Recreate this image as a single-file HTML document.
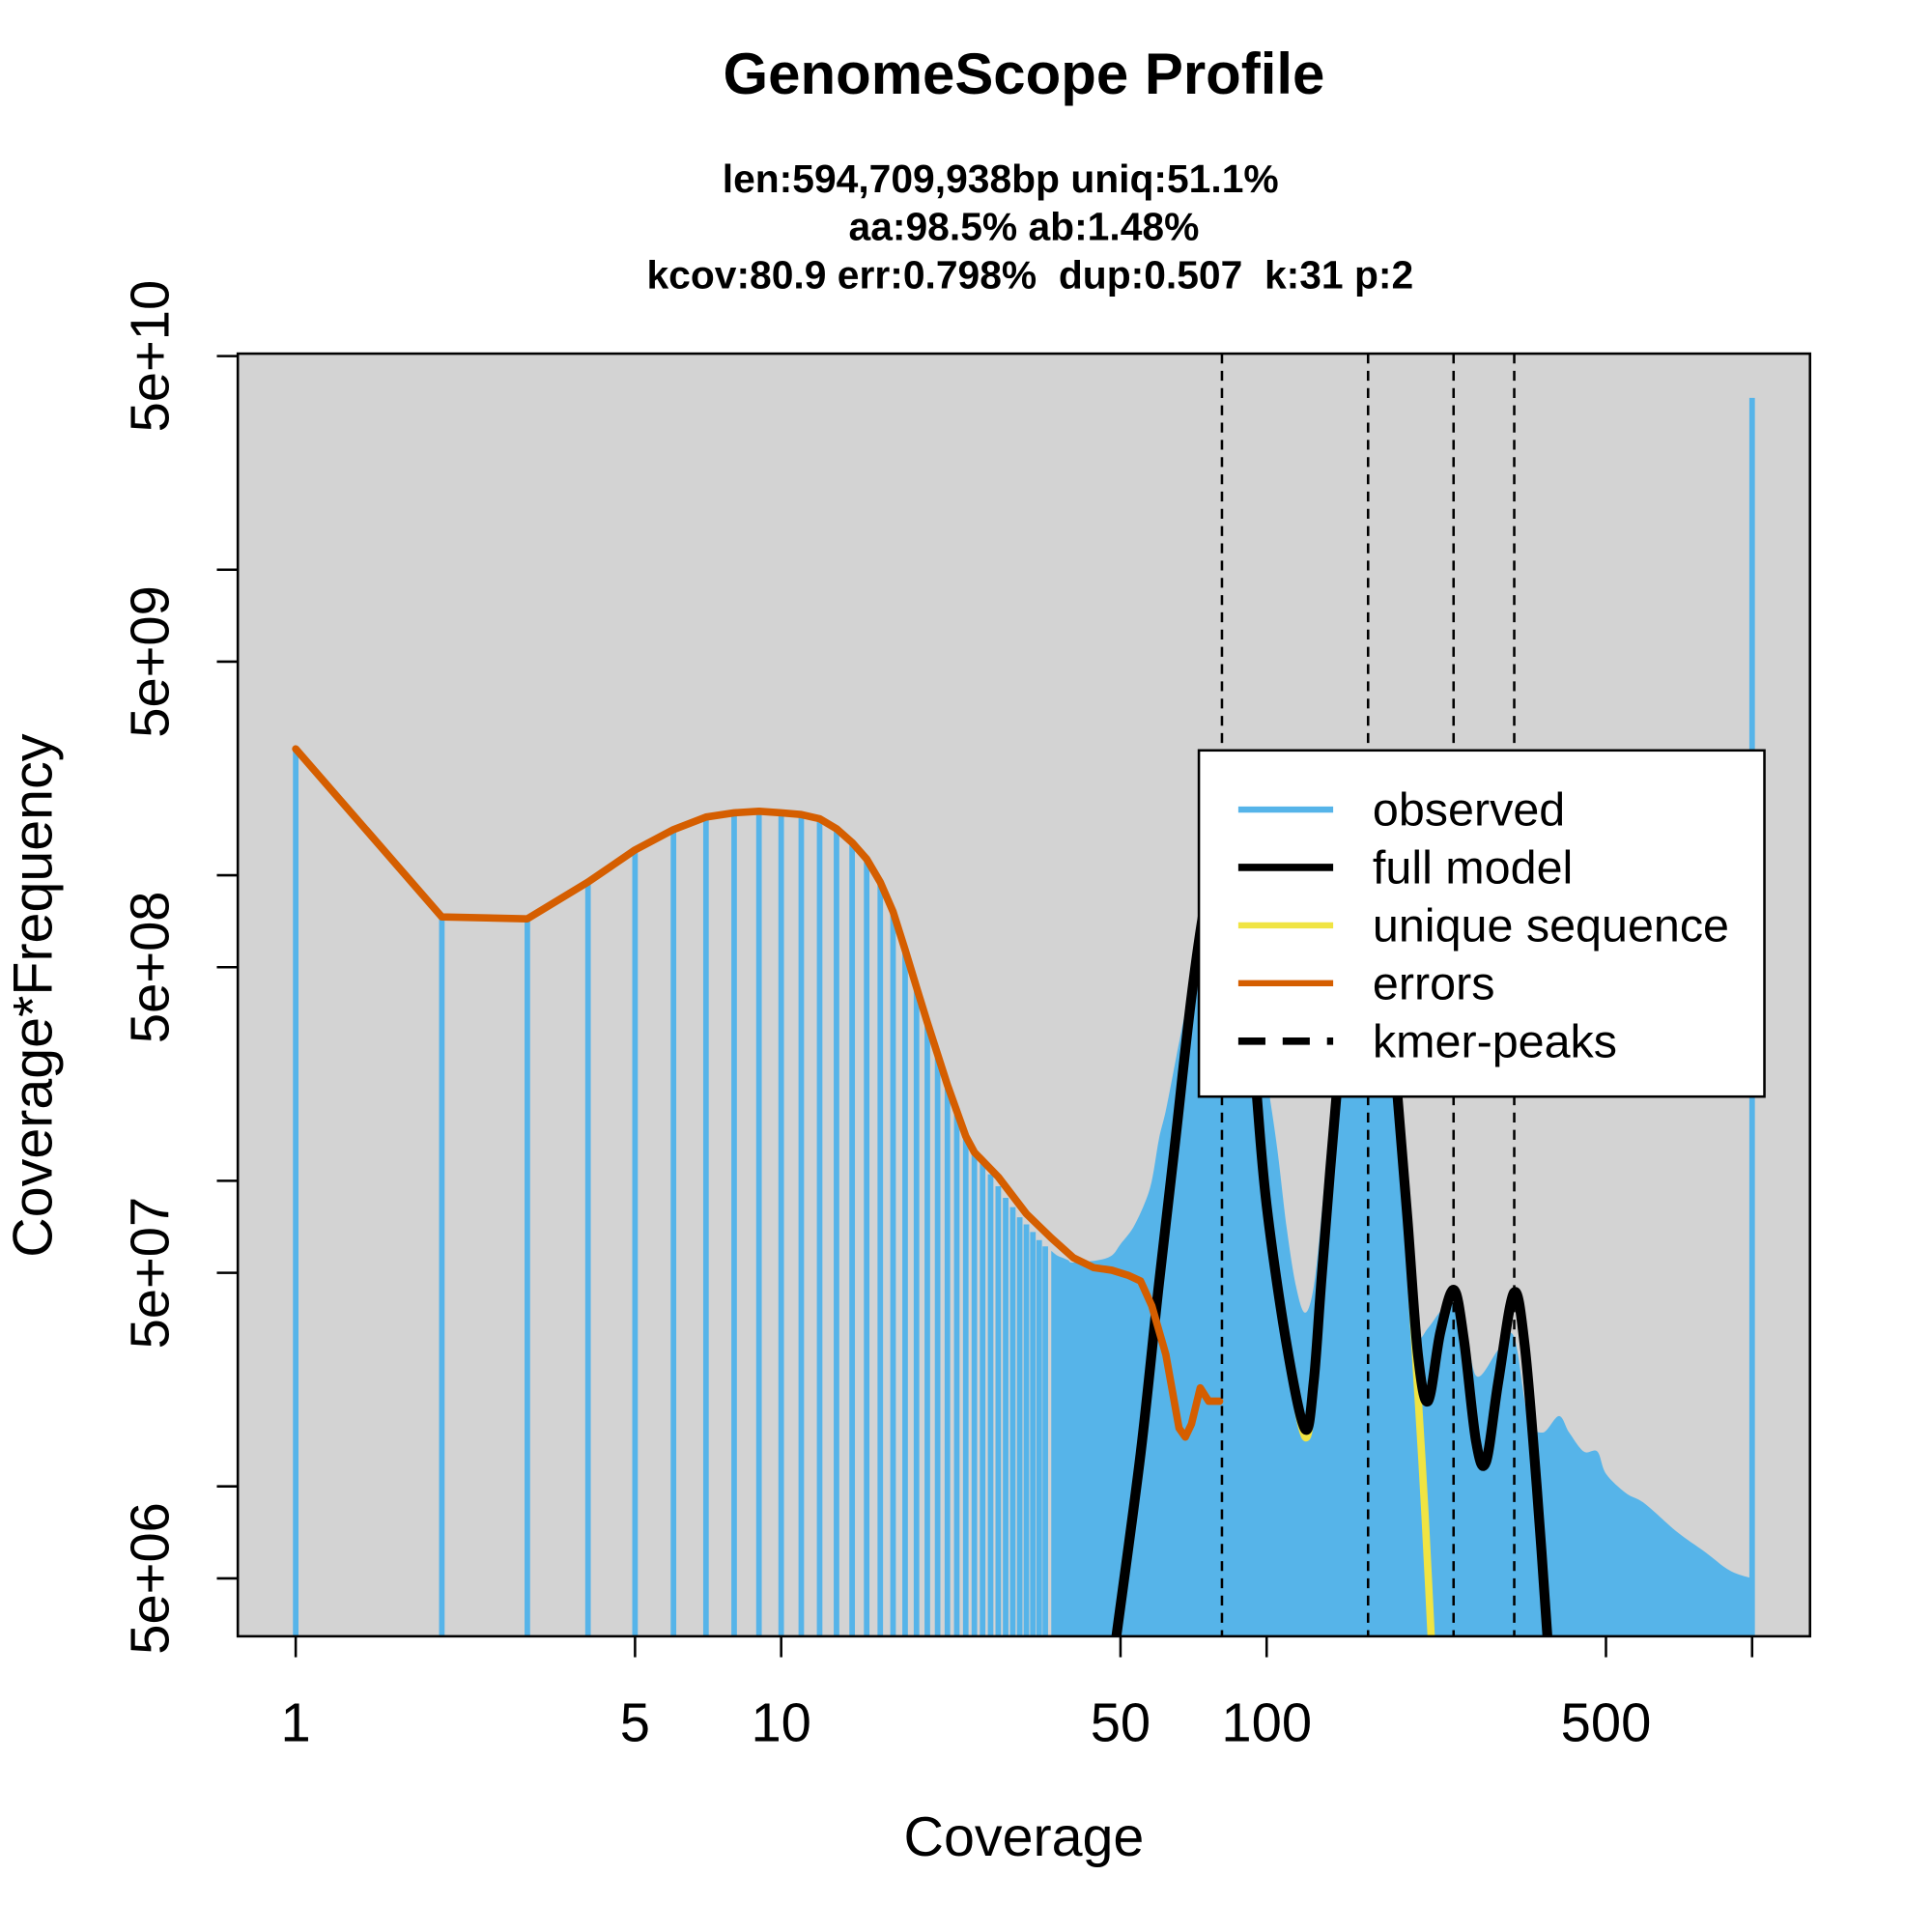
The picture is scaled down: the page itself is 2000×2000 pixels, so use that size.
<!DOCTYPE html>
<html><head><meta charset="utf-8"><style>
html,body{margin:0;padding:0;background:#fff}
svg{display:block}
text{font-family:"Liberation Sans",Arial,sans-serif;fill:#000;white-space:pre}
</style></head><body>
<svg id="chart" width="2000" height="2000" viewBox="0 0 1568 1568" xmlns="http://www.w3.org/2000/svg">
<rect x="0" y="0" width="1568" height="1568" fill="#fff"/>
<text x="831" y="76" font-size="47" font-weight="bold" text-anchor="middle">GenomeScope Profile</text>
<text x="812" y="156" font-size="32" font-weight="bold" text-anchor="middle">len:594,709,938bp uniq:51.1%</text>
<text x="831" y="195" font-size="32" font-weight="bold" text-anchor="middle">aa:98.5% ab:1.48%</text>
<text x="836" y="234" font-size="32" font-weight="bold" text-anchor="middle" xml:space="preserve">kcov:80.9 err:0.798%  dup:0.507  k:31 p:2</text>
<rect x="193" y="287" width="1276" height="1041" fill="#d3d3d3"/>
<defs><clipPath id="clip"><rect x="193" y="287" width="1276" height="1041"/></clipPath></defs>
<g id="marks" clip-path="url(#clip)"></g>
<rect x="193" y="287" width="1276" height="1041" fill="none" stroke="#000" stroke-width="2"/>
<g id="axes"></g>
<text x="831" y="1506" font-size="45" text-anchor="middle">Coverage</text>
<text transform="translate(42,808) rotate(-90)" font-size="45" text-anchor="middle">Coverage*Frequency</text>
<g>
<rect x="973" y="609" width="459" height="281" fill="#fff" stroke="#000" stroke-width="2"/>
<line x1="1005" y1="657" x2="1082" y2="657" stroke="#56b4e9" stroke-width="5"/>
<text x="1114" y="670" font-size="38">observed</text>
<line x1="1005" y1="704" x2="1082" y2="704" stroke="#000" stroke-width="6"/>
<text x="1114" y="717" font-size="38">full model</text>
<line x1="1005" y1="751" x2="1082" y2="751" stroke="#f0e442" stroke-width="5"/>
<text x="1114" y="764" font-size="38">unique sequence</text>
<line x1="1005" y1="798" x2="1082" y2="798" stroke="#d55e00" stroke-width="5"/>
<text x="1114" y="811" font-size="38">errors</text>
<line x1="1005" y1="845" x2="1082" y2="845" stroke="#000" stroke-width="6" stroke-dasharray="22,14"/>
<text x="1114" y="858" font-size="38">kmer-peaks</text>
</g>
</svg>
<script>
const xTicks=[1,5,10,50,100,500,1000];
const xTickLabels=["1","5","10","50","100","500",""];
const yTicks=[5e10,1e10,5e9,1e9,5e8,1e8,5e7,1e7,5e6,1e6];
const yTickLabels=["5e+10","","5e+09","","5e+08","","5e+07","","5e+06",""];
const obsCov=[1,2,3,4,5,6,7,8,9,10,11,12,13,14,15,16,17,18,19,20,21,22,23,24,25,26,27,28,29,30,31,32,33,34,35,36,37,38,39,40,45,48,50,53,56,58,60,62,65,68,70,75,81,90,95,100,105,110,115,120,125,130,135,140,150,162,175,185,190,195,200,205,215,230,243,255,270,300,323,345,370,400,420,450,480,500,550,600,700,800,900,1000];
const obsVal=[2.59e9,7.3e8,7.2e8,9.5e8,1.21e9,1.41e9,1.55e9,1.6e9,1.62e9,1.6e9,1.58e9,1.53e9,1.42e9,1.28e9,1.13e9,9.5e8,7.6e8,5.7e8,4.3e8,3.3e8,2.6e8,2.06e8,1.7e8,1.4e8,1.25e8,1.14e8,1.05e8,9.6e7,8.8e7,8.2e7,7.6e7,7.2e7,6.8e7,6.4e7,6.1e7,5.9e7,5.7e7,5.6e7,5.5e7,5.4e7,5.5e7,5.7e7,6.2e7,7.0e7,8.4e7,1.0e8,1.37e8,1.7e8,2.5e8,3.6e8,4.7e8,7.6e8,1.0e9,7e8,4e8,2.2e8,1.3e8,7e7,4.5e7,3.7e7,4.5e7,8e7,1.6e8,3e8,6e8,9e8,7e8,3.5e8,1.5e8,8e7,4.5e7,3.1e7,3.3e7,3.8e7,4.0e7,3.7e7,2.3e7,2.8e7,3.1e7,1.7e7,1.5e7,1.7e7,1.5e7,1.3e7,1.3e7,1.1e7,9.5e6,8.8e6,7.1e6,6.1e6,5.3e6,5.0e6];
const spikeCov=[1000];
const spikeVal=[3.65e10];
const modelCov=[49,55,60,65,70,75,81,90,95,100,110,120,125,130,140,150,162,175,185,195,205,215,228,243,255,270,283,300,323,340,360,380];
const modelVal=[3.2e6,1.28e7,4.6e7,1.4e8,4.0e8,8.4e8,1.3e9,6.4e8,2.1e8,8.3e7,2.9e7,1.54e7,2.2e7,5.0e7,2.1e8,6.3e8,1.1e9,6.3e8,2.1e8,7.5e7,2.7e7,1.9e7,3.2e7,4.4e7,3.0e7,1.4e7,1.2e7,2.2e7,4.3e7,2.9e7,1.0e7,3.0e6];
const uniqCov=[49,55,60,65,70,75,81,90,95,100,110,120,125,130,140,150,162,175,185,195,205,212,220];
const uniqVal=[3.2e6,1.25e7,4.5e7,1.38e8,3.95e8,8.3e8,1.28e9,6.4e8,2.1e8,8.3e7,2.9e7,1.45e7,2.2e7,5.0e7,2.1e8,6.3e8,1.1e9,6.3e8,2.1e8,7.0e7,2.0e7,8e6,2.5e6];
const errCov=[1,2,3,4,5,6,7,8,9,10,11,12,13,14,15,16,17,18,19,20,22,24,25,28,32,36,40,44,48,52,55,58,62,66,68,70,73,76,80];
const errVal=[2.59e9,7.3e8,7.2e8,9.5e8,1.21e9,1.41e9,1.55e9,1.6e9,1.62e9,1.6e9,1.58e9,1.53e9,1.42e9,1.28e9,1.13e9,9.5e8,7.6e8,5.7e8,4.3e8,3.3e8,2.06e8,1.4e8,1.24e8,1.03e8,7.8e7,6.5e7,5.6e7,5.2e7,5.1e7,4.9e7,4.7e7,3.9e7,2.7e7,1.55e7,1.45e7,1.6e7,2.1e7,1.9e7,1.9e7];
const peakCov=[80.9,161.8,242.7,323.6];

const X0=240,XD=394,Y0=289,YD=248,YBOT=1328;
function xs(c){return X0+XD*Math.log10(c);}
function ys(v){return Y0+YD*(Math.log10(5e10)-Math.log10(v));}
const NS="http://www.w3.org/2000/svg";
const marks=document.getElementById('marks');
const axes=document.getElementById('axes');
function mk(tag,attrs,parent){const e=document.createElementNS(NS,tag);for(const k in attrs)e.setAttribute(k,attrs[k]);parent.appendChild(e);return e;}
function smoothPath(P){
  let d='M'+P[0][0].toFixed(1)+','+P[0][1].toFixed(1);
  for(let i=0;i<P.length-1;i++){
    const p0=P[i-1]||P[i],p1=P[i],p2=P[i+1],p3=P[i+2]||P[i+1];
    const c1=[p1[0]+(p2[0]-p0[0])/6,p1[1]+(p2[1]-p0[1])/6];
    const c2=[p2[0]-(p3[0]-p1[0])/6,p2[1]-(p3[1]-p1[1])/6];
    d+=' C'+c1[0].toFixed(1)+','+c1[1].toFixed(1)+' '+c2[0].toFixed(1)+','+c2[1].toFixed(1)+' '+p2[0].toFixed(1)+','+p2[1].toFixed(1);
  }
  return d;
}
function linePath(P){return 'M'+P.map(p=>p[0].toFixed(1)+','+p[1].toFixed(1)).join(' L');}

let pts=[];
obsCov.forEach((c,i)=>{if(c>=36)pts.push([xs(c),ys(obsVal[i])]);});
const firstDense=obsCov.find(c=>c>=36), lastDense=obsCov[obsCov.length-1];
const areaD=smoothPath(pts)+' L'+xs(lastDense).toFixed(1)+','+YBOT+' L'+xs(firstDense).toFixed(1)+','+YBOT+' Z';
const area=mk('path',{d:areaD,fill:'#56b4e9'},marks);


obsCov.forEach((c,i)=>{
  if(c>=36) return;
  const b=mk('line',{x1:xs(c),x2:xs(c),y1:YBOT,y2:ys(obsVal[i]),stroke:'#56b4e9','stroke-width':4.5},marks);
  
  
});
spikeCov.forEach((c,i)=>{
  const b=mk('line',{x1:xs(c),x2:xs(c),y1:YBOT,y2:ys(spikeVal[i]),stroke:'#56b4e9','stroke-width':4.5},marks);
  
  
});
function curve(cov,val,color,w,name,smooth){
  const P=cov.map((c,i)=>[xs(c),ys(val[i])]);
  const e=mk('path',{d:smooth?smoothPath(P):linePath(P),fill:'none',stroke:color,'stroke-width':w,'stroke-linejoin':'round','stroke-linecap':'round'},marks);
  
  
}
curve(uniqCov,uniqVal,'#f0e442',6,'unique-sequence-line',true);
curve(modelCov,modelVal,'#000',8,'full-model-line',true);
curve(errCov,errVal,'#d55e00',6,'errors-line',false);
peakCov.forEach(c=>{
  const l=mk('line',{x1:xs(c),x2:xs(c),y1:287,y2:YBOT,stroke:'#000','stroke-width':2,'stroke-dasharray':'8,6'},marks);
  
  
});
xTicks.forEach((t,i)=>{
  const l=mk('line',{x1:xs(t),x2:xs(t),y1:YBOT,y2:YBOT+17,stroke:'#000','stroke-width':2},axes);
  
  
  if(xTickLabels[i]){
    const tx=mk('text',{x:xs(t),y:1413,'font-size':44,'text-anchor':'middle'},axes);
    tx.textContent=xTickLabels[i];
    
    
  }
});
yTicks.forEach((t,i)=>{
  const y=ys(t); if(y>YBOT+1) return;
  const l=mk('line',{x1:176,x2:193,y1:y,y2:y,stroke:'#000','stroke-width':2},axes);
  
  
  if(yTickLabels[i]){
    const tx=mk('text',{transform:'translate(137,'+y.toFixed(1)+') rotate(-90)','font-size':44,'text-anchor':'middle'},axes);
    tx.textContent=yTickLabels[i];
    
    
  }
});
</script>
</body></html>
